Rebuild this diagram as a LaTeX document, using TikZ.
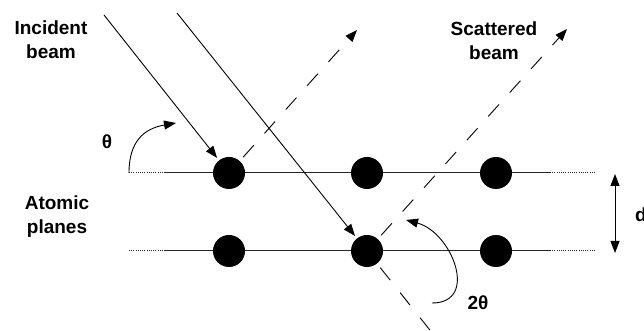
\documentclass[tikz,border=0pt]{standalone}
\usepackage{fontspec}
\setmainfont{Liberation Sans}
\usetikzlibrary{arrows.meta, positioning}

\begin{document}
\begin{tikzpicture}[x=1pt, y=1pt]
    \tikzstyle{atom} = [circle, fill=black, minimum size=32pt, inner sep=0pt]
    \tikzstyle{lbl} = [font=\fontsize{19}{24}\selectfont\bfseries, align=center, inner sep=0pt]
    \tikzstyle{beam} = [line width=0.9pt, -{Triangle[length=12pt, width=9pt]}]
    \tikzstyle{scat} = [beam, dash pattern=on 16pt off 16pt]
    \tikzstyle{plane} = [line width=1pt, black!85]
    \tikzstyle{fade} = [plane, dash pattern=on 1pt off 1.2pt]

    \useasboundingbox (0,0) rectangle (644,331);

    % Atomic planes
    \coordinate (p1l) at (129,158);
    \coordinate (p1a) at (165,158);
    \coordinate (p1b) at (550,158);
    \coordinate (p1r) at (596,158);
    \coordinate (p2l) at (129,80);
    \coordinate (p2a) at (165,80);
    \coordinate (p2b) at (550,80);
    \coordinate (p2r) at (596,80);
    \draw[fade] (p1l) -- (p1a);
    \draw[plane] (p1a) -- (p1b);
    \draw[fade] (p1b) -- (p1r);
    \draw[fade] (p2l) -- (p2a);
    \draw[plane] (p2a) -- (p2b);
    \draw[fade] (p2b) -- (p2r);

    % Atoms
    \node[atom] (a11) at (229,158) {};
    \node[atom] (a12) at (367,158) {};
    \node[atom] (a13) at (496,158) {};
    \node[atom] (a21) at (229,80) {};
    \node[atom] (a22) at (367,80) {};
    \node[atom] (a23) at (496,80) {};

    % Incident beam
    \coordinate (in1) at (104,316);
    \coordinate (in2) at (177,318);
    \draw[beam, shorten >=3pt] (in1) -- (a11);
    \draw[beam, shorten >=3pt] (in2) -- (a22);

    % Scattered beam
    \coordinate (out1) at (357,301);
    \coordinate (out2) at (567,302);
    \coordinate (tr) at (437,-8);
    \draw[scat, shorten <=5pt] (a11) -- (out1);
    \draw[scat, shorten <=5pt] (a22) -- (out2);
    \draw[line width=0.9pt, dash pattern=on 16pt off 16pt, shorten <=5pt] (a22) -- (tr);

    % Angles
    \coordinate (th0) at (129,158);
    \coordinate (th1) at (176,208);
    \draw[beam] (th0) to[out=90, in=190, looseness=1.2] (th1);
    \coordinate (tt0) at (432,28);
    \coordinate (tt1) at (406,111);
    \draw[beam] (tt0) to[out=0, in=-15, looseness=1.4] (tt1);

    % Spacing d
    \coordinate (d1) at (615,157);
    \coordinate (d2) at (615,78);
    \draw[line width=0.9pt, {Triangle[length=12pt, width=9pt]}-{Triangle[length=12pt, width=9pt]}] (d1) -- (d2);

    % Labels
    \node[lbl] (incident) at (51,291) {Incident\\beam};
    \node[lbl] (scattered) at (494,290) {Scattered\\beam};
    \node[lbl] (atomic) at (57,114) {Atomic\\planes};
    \node[lbl] (theta) at (107,189) {θ};
    \node[lbl] (twotheta) at (478,28) {2θ};
    \node[lbl] (dlbl) at (641,116) {d};
\end{tikzpicture}
\end{document}
